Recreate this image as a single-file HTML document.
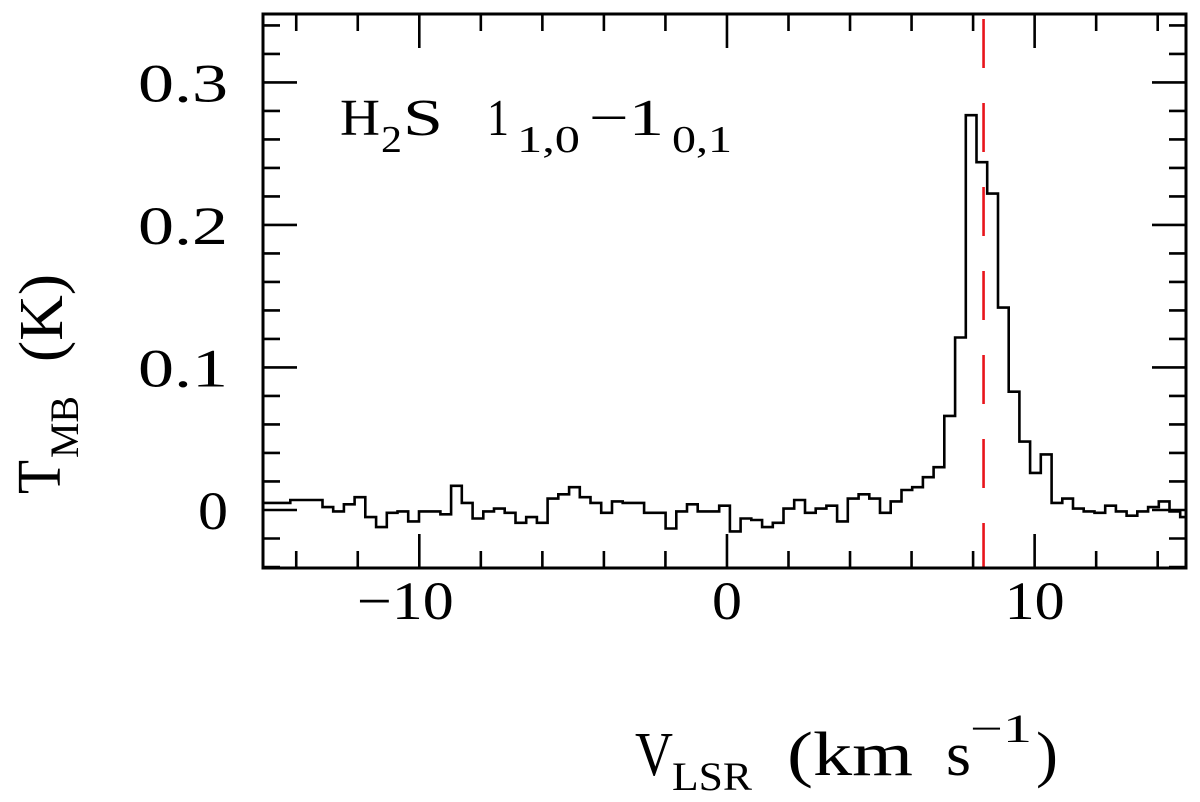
<!DOCTYPE html>
<html><head><meta charset="utf-8"><style>
html,body{margin:0;padding:0;background:#fff;}
svg{display:block;font-family:"Liberation Serif",serif;}
</style></head><body>
<svg id="chart" width="1200" height="802" viewBox="0 0 1200 802" xmlns="http://www.w3.org/2000/svg">
<g id="ticks"></g>
<g id="labels" font-size="54"></g>
<path id="spec" fill="none" stroke="#000" stroke-width="2.6"/>
<line id="vline" stroke="#e8141b" stroke-width="2.6" stroke-dasharray="49 35" stroke-dashoffset="79"/>
<rect x="263" y="14" width="923" height="554" fill="none" stroke="#000" stroke-width="3"/>
<g>
<text x="340" y="135" font-size="52" textLength="40" lengthAdjust="spacingAndGlyphs">H</text>
<text x="381" y="152" font-size="38" textLength="21" lengthAdjust="spacingAndGlyphs">2</text>
<text x="403" y="135" font-size="52" textLength="40" lengthAdjust="spacingAndGlyphs">S</text>
<text x="487" y="135" font-size="52" textLength="22" lengthAdjust="spacingAndGlyphs">1</text>
<text x="517" y="152" font-size="38" textLength="63" lengthAdjust="spacingAndGlyphs">1,0</text>
<text x="589" y="135" font-size="52" textLength="75" lengthAdjust="spacingAndGlyphs">−1</text>
<text x="672" y="152" font-size="38" textLength="60" lengthAdjust="spacingAndGlyphs">0,1</text>
</g>
<g>
<text x="635" y="775" font-size="62" textLength="38" lengthAdjust="spacingAndGlyphs">V</text>
<text x="672" y="790" font-size="40" textLength="80" lengthAdjust="spacingAndGlyphs">LSR</text>
<text x="787" y="775" font-size="62" textLength="126" lengthAdjust="spacingAndGlyphs">(km</text>
<text x="946" y="775" font-size="62" textLength="25" lengthAdjust="spacingAndGlyphs">s</text>
<text x="970" y="742" font-size="40" textLength="62" lengthAdjust="spacingAndGlyphs">−1</text>
<text x="1036" y="775" font-size="62" textLength="22" lengthAdjust="spacingAndGlyphs">)</text>
</g>
<g>
<text transform="translate(60,494) rotate(-90)" font-size="62" textLength="34" lengthAdjust="spacingAndGlyphs">T</text>
<text transform="translate(78,458) rotate(-90)" font-size="40" textLength="62" lengthAdjust="spacingAndGlyphs">MB</text>
<text transform="translate(62,362) rotate(-90)" font-size="62" textLength="88" lengthAdjust="spacingAndGlyphs">(K)</text>
</g>
</svg>
<script>
const temps = [0.005,0.005,0.005,0.007,0.007,0.007,0.002,-0.001,0.004,0.009,-0.005,-0.012,-0.002,-0.001,-0.008,-0.001,-0.001,-0.003,0.017,0.005,-0.006,-0.001,0.001,-0.002,-0.009,-0.005,-0.009,0.008,0.011,0.016,0.009,0.005,-0.002,0.006,0.005,0.005,-0.002,-0.002,-0.013,-0.001,0.004,-0.001,-0.001,0.003,-0.015,-0.006,-0.007,-0.012,-0.009,0.001,0.007,-0.002,0.001,0.003,-0.008,0.008,0.011,0.008,-0.002,0.006,0.014,0.016,0.023,0.030,0.066,0.121,0.277,0.244,0.222,0.142,0.083,0.048,0.026,0.039,0.005,0.008,0.001,-0.001,-0.002,0.003,-0.001,-0.004,-0.001,0.002,0.006,-0.001,-0.005];
const vStart = -14.89;
const chanWidth = 0.3485;
const xTickMajor = [-10,0,10];
const xTickLabels = ["−10","0","10"];
const yTickMajor = [0,0.1,0.2,0.3];
const yTickLabels = ["0","0.1","0.2","0.3"];
const vSys = 8.34;
const X0=263,X1=1186,Y0=14,Y1=568;
const xMin=-15.08,xMax=14.92,yMin=-0.0407,yMax=0.348;
const xs=v=>X0+(v-xMin)/(xMax-xMin)*(X1-X0);
const ys=t=>Y1-(t-yMin)/(yMax-yMin)*(Y1-Y0);
const NS="http://www.w3.org/2000/svg";
let d="";
temps.forEach((t,i)=>{
  let a=vStart+(i-1)*chanWidth,b=vStart+i*chanWidth;
  let xa=Math.max(X0,xs(a)),xb=Math.min(X1,xs(b)),y=ys(t);
  d+=(i===0?"M":"L")+xa.toFixed(1)+","+y.toFixed(1)+" L"+xb.toFixed(1)+","+y.toFixed(1)+" ";
});
document.getElementById('spec').setAttribute('d',d);
const vl=document.getElementById('vline');
vl.setAttribute('x1',xs(vSys));vl.setAttribute('x2',xs(vSys));vl.setAttribute('y1',Y0);vl.setAttribute('y2',Y1);
const tg=document.getElementById('ticks'),lg=document.getElementById('labels');
function ln(x1,y1,x2,y2,name){const l=document.createElementNS(NS,'line');
l.setAttribute('x1',x1);l.setAttribute('y1',y1);l.setAttribute('x2',x2);l.setAttribute('y2',y2);
l.setAttribute('stroke','#000');l.setAttribute('stroke-width','2.6');


tg.appendChild(l);}
for(let v=-14;v<=14;v+=2){const major=xTickMajor.includes(v);const L=major?34:17;const x=xs(v);
ln(x,Y1,x,Y1-L,'x-tick');ln(x,Y0,x,Y0+L,'x-tick-top');}
for(let k=-2;k<=17;k++){const t=k*0.02;const major=(k%5===0);const L=major?34:17;const y=ys(t);
if(y<Y0||y>Y1)continue;ln(X0,y,X0+L,y,'y-tick');ln(X1,y,X1-L,y,'y-tick-right');}
xTickMajor.forEach((v,i)=>{const t=document.createElementNS(NS,'text');
const s=xTickLabels[i];const w=s.length===3?97:(s.length===2?60:30);
const cx=xs(v)+(v<0?-14:0);
t.setAttribute('x',cx-w/2);t.setAttribute('y',619);
t.setAttribute('textLength',w);t.setAttribute('lengthAdjust','spacingAndGlyphs');
t.textContent=s;


lg.appendChild(t);});
yTickMajor.forEach((v,i)=>{const t=document.createElementNS(NS,'text');
const s=yTickLabels[i];const w=s.length===1?30:90;
t.setAttribute('x',228-w);t.setAttribute('y',ys(v)+19);
t.setAttribute('textLength',w);t.setAttribute('lengthAdjust','spacingAndGlyphs');
t.textContent=s;


lg.appendChild(t);});
</script>
</body></html>
